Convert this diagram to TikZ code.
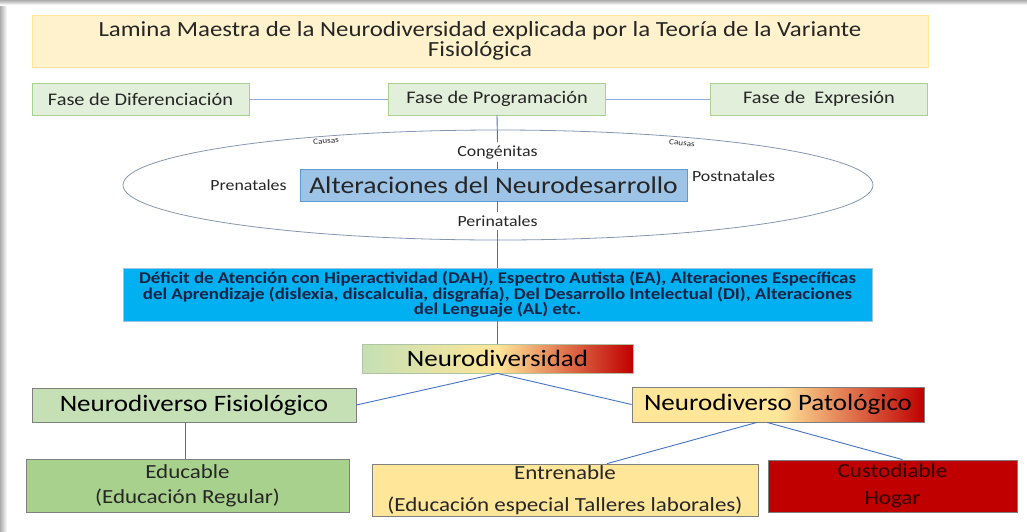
\documentclass[tikz,border=0pt]{standalone}
\usepackage{fontspec}
\setmainfont{Carlito}[FakeStretch=1.15]
\usetikzlibrary{shapes.geometric}
\definecolor{texto}{RGB}{38,38,38}
\definecolor{titfondo}{RGB}{255,242,204}
\definecolor{titborde}{RGB}{255,230,153}
\definecolor{fasefondo}{RGB}{226,239,218}
\definecolor{faseborde}{RGB}{169,208,142}
\definecolor{azul}{RGB}{68,114,196}
\definecolor{azulclaro}{RGB}{143,170,220}
\definecolor{elipse}{RGB}{132,150,176}
\definecolor{altfondo}{RGB}{157,195,230}
\definecolor{altborde}{RGB}{91,155,213}
\definecolor{cian}{RGB}{0,176,240}
\definecolor{marino}{RGB}{25,35,70}
\definecolor{gris}{RGB}{127,127,127}
\definecolor{verdeclaro}{RGB}{197,224,180}
\definecolor{verde}{RGB}{169,209,142}
\definecolor{amarillo}{RGB}{255,230,153}
\definecolor{rojo}{RGB}{192,0,0}

\begin{document}
\begin{tikzpicture}[x=1pt, y=-1pt, text=texto,
  fase/.style={rectangle, draw=faseborde, fill=fasefondo, line width=0.8pt, minimum width=217pt, minimum height=32pt, inner sep=0pt, font=\fontsize{17.7}{20}\selectfont},
  caja/.style={rectangle, draw=gris, line width=0.8pt, inner sep=0pt, align=center},
  causa/.style={inner sep=3pt, font=\fontsize{15.5}{18}\selectfont},
  enlace/.style={draw=azul, line width=0.9pt}]
  \useasboundingbox (0,0) rectangle (1027,531);
  \fill[left color=gray!65, right color=white] (0,0) rectangle (7,531);
  \fill[top color=gray!65, bottom color=white] (0,0) rectangle (1027,5);

  \node (titulo) [rectangle, draw=titborde, fill=titfondo, line width=0.8pt, minimum width=896pt, minimum height=52pt, align=center, font=\fontsize{21.6}{20}\selectfont] at (480,41) {Lamina Maestra de la Neurodiversidad explicada por la Teoría de la Variante\\Fisiológica};

  \node (diferenciacion) [fase] at (140.5,99) {Fase de Diferenciación};
  \node (programacion) [fase] at (497,99) {Fase de Programación};
  \node (expresion) [fase] at (819,99) {Fase de\ \ Expresión};

  \node (causas) [ellipse, draw=elipse, line width=0.8pt, minimum width=750pt, minimum height=110pt, inner sep=0pt] at (498,185) {};
  \node (causaizq) [rotate=5, font=\fontsize{8}{9}\selectfont] at (326,141) {Causas};
  \node (causader) [rotate=-6, font=\fontsize{8}{9}\selectfont] at (682,143) {Causas};
  \node (congenitas) [causa] at (497.5,152) {Congénitas};
  \node (prenatales) [causa] at (248.5,185) {Prenatales};
  \node (postnatales) [causa] at (733.5,176) {Postnatales};
  \node (perinatales) [causa] at (497.5,221) {Perinatales};
  \node (alteraciones) [rectangle, draw=altborde, fill=altfondo, line width=0.8pt, minimum width=387pt, minimum height=32pt, inner sep=0pt, font=\fontsize{24}{26}\selectfont] at (493.5,185) {Alteraciones del Neurodesarrollo};

  \node (deficit) [rectangle, draw=altfondo, fill=cian, line width=0.8pt, minimum width=749pt, minimum height=53pt, inner sep=0pt, align=center, text=marino, font=\fontsize{16.4}{15.5}\selectfont\bfseries, execute at begin node={\lineskiplimit=-8pt\relax}] at (497.5,294.5) {Déficit de Atención con Hiperactividad (DAH), Espectro Autista (EA), Alteraciones Específicas\\del Aprendizaje (dislexia, discalculia, disgrafía), Del Desarrollo Intelectual (DI), Alteraciones\\del Lenguaje (AL) etc.};

  \node (neurodiversidad) [rectangle, draw=verdeclaro!70!gris, line width=0.8pt, left color=verdeclaro, right color=rojo, middle color=amarillo, minimum width=271pt, minimum height=29pt, inner sep=0pt, font=\fontsize{23.5}{26}\selectfont, text=black] at (497.5,358.5) {Neurodiversidad};

  \node (fisiologico) [caja, fill=verdeclaro, minimum width=324pt, minimum height=34pt, font=\fontsize{23.5}{26}\selectfont, text=black] at (194,405) {Neurodiverso Fisiológico};
  \node (patologico) [caja, left color=amarillo, right color=rojo, middle color=amarillo, minimum width=292pt, minimum height=35pt, font=\fontsize{23.5}{26}\selectfont, text=black] at (778,404.5) {Neurodiverso Patológico};

  \node (educable) [caja, fill=verde, minimum width=323pt, minimum height=53pt, font=\fontsize{20}{25}\selectfont] at (187.5,485.5) {Educable\\(Educación Regular)};
  \node (entrenable) [caja, fill=amarillo, minimum width=386pt, minimum height=52pt, font=\fontsize{20}{32}\selectfont] at (565,490) {Entrenable\\(Educación especial Talleres laborales)};
  \node (custodiable) [caja, fill=rojo, minimum width=249pt, minimum height=52pt, text={rgb,255:red,50;green,0;blue,0}, font=\fontsize{20}{27}\selectfont] at (892.5,486) {Custodiable\\Hogar};

  \draw[draw=azulclaro, line width=0.9pt] (diferenciacion.east) -- (programacion.west);
  \draw[draw=azulclaro, line width=0.9pt] (programacion.east) -- (expresion.west);
  \draw[enlace] (programacion.south) -- (congenitas.north);
  \draw[enlace] (congenitas.south) -- (alteraciones.north -| congenitas.south);
  \draw[enlace] (alteraciones.south -| perinatales.north) -- (perinatales.north);
  \draw[enlace] (perinatales.south) -- (deficit.north);
  \draw[enlace] (deficit.south) -- (neurodiversidad.north);
  \draw[enlace] (neurodiversidad.south) -- (fisiologico.east);
  \draw[enlace] (neurodiversidad.south) -- (patologico.west);
  \draw[enlace] ([xshift=-9pt]fisiologico.south) -- ([xshift=-2.5pt]educable.north);
  \draw[enlace] ([xshift=-21pt]patologico.south) -- ([xshift=42pt]entrenable.north);
  \draw[enlace] ([xshift=-11pt]patologico.south) -- ([xshift=10pt]custodiable.north);
\end{tikzpicture}
\end{document}
